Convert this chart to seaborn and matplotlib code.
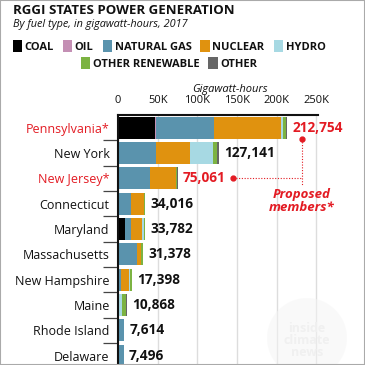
import numpy as np
import pandas as pd
import seaborn as sns
import matplotlib.pyplot as plt
from matplotlib.patches import Rectangle, Circle

# generation by fuel type, GWh, 2017
states = ["Pennsylvania*", "New York", "New Jersey*", "Connecticut", "Maryland",
          "Massachusetts", "New Hampshire", "Maine", "Rhode Island", "Delaware"]
coal = [47000, 300, 1500, 300, 8500, 0, 300, 0, 0, 400]
oil = [500, 800, 200, 200, 300, 200, 50, 100, 50, 100]
natural_gas = [73500, 47000, 38500, 16000, 7200, 23800, 3500, 1500, 7200, 6800]
nuclear = [84000, 42200, 33000, 16500, 14800, 4500, 10200, 0, 0, 0]
hydro = [2500, 29500, 50, 300, 1600, 800, 1600, 3700, 0, 0]
other_renewable = [4300, 5000, 1300, 400, 1000, 1600, 1600, 5300, 300, 150]
other = [954, 2341, 511, 316, 382, 478, 148, 268, 64, 46]
proposed = ["Pennsylvania*", "New Jersey*"]

fuels = ["COAL", "OIL", "NATURAL GAS", "NUCLEAR", "HYDRO", "OTHER RENEWABLE", "OTHER"]
colors = ["#000000", "#c48fb4", "#5a93ad", "#e0920f", "#a7d9e3", "#7cb342", "#666666"]
xticks = [0, 50000, 100000, 150000, 200000, 250000]
xtick_labels = ["0", "50K", "100K", "150K", "200K", "250K"]

RED = "#e31b23"
FONT = "Open Sans"
plt.rcParams["font.family"] = [FONT, "DejaVu Sans"]

df = pd.DataFrame({"state": states, "COAL": coal, "OIL": oil, "NATURAL GAS": natural_gas,
                   "NUCLEAR": nuclear, "HYDRO": hydro, "OTHER RENEWABLE": other_renewable,
                   "OTHER": other})
cum = df[fuels].cumsum(axis=1)
df["total"] = df[fuels].sum(axis=1)

W = H = 365.0
def fx(px):
    return px / W
def fy(py):
    return 1 - py / H

fig = plt.figure(figsize=(3.65, 3.65), dpi=100)
fig.patch.set_facecolor("white")

ax = fig.add_axes([fx(118), fy(368.3), (318 - 118) / W, 253.3 / H])

# stacked bars: draw longest cumulative layer first
for fuel, col in reversed(list(zip(fuels, colors))):
    sns.barplot(x=cum[fuel], y=df["state"], order=states, color=col, saturation=1,
                width=0.87, orient="h", errorbar=None, linewidth=0, ax=ax)

ax.set_xlim(0, 252000)
ax.set_ylim(9.5, -0.5)
ax.set_xlabel("")
ax.set_ylabel("")
ax.xaxis.tick_top()
ax.set_xticks(xticks)
ax.set_xticklabels(xtick_labels, fontsize=8, color="#111")
ax.tick_params(axis="x", length=0, pad=6.5)
ax.grid(axis="x", color="#dddddd", linewidth=1)
ax.set_axisbelow(True)
for s in ["right", "bottom"]:
    ax.spines[s].set_visible(False)
for s in ["top", "left"]:
    ax.spines[s].set_color("#111")
    ax.spines[s].set_linewidth(1.5)

ax.set_yticks(range(len(states)))
ax.set_yticklabels(states, fontsize=9)
for lab in ax.get_yticklabels():
    lab.set_color(RED if lab.get_text() in proposed else "#111")
ax.tick_params(axis="y", which="major", length=0, pad=6)
ax.set_yticks(np.arange(0.5, len(states) - 0.5, 1), minor=True)
ax.tick_params(axis="y", which="minor", length=11, width=0.9, color="#444")

# totals
for i, row in df.iterrows():
    is_prop = row["state"] in proposed
    off = 7500 if i == 0 else 6500
    ax.text(row["total"] + off, i, f"{row['total']:,}", va="center", ha="left",
            fontsize=9.8, fontweight="bold", color=RED if is_prop else "#111",
            clip_on=False)

# proposed members callout
note_x = 231700
ax.plot([note_x], [0.43], "o", color=RED, ms=3.5, clip_on=False)
ax.plot([144800], [2.0], "o", color=RED, ms=3.5, clip_on=False)
ax.plot([144800, note_x], [2.0, 2.0], color=RED, lw=0.8, ls=(0, (1, 1.5)), clip_on=False)
ax.plot([note_x, note_x], [0.43, 2.25], color=RED, lw=0.8, ls=(0, (1, 1.5)), clip_on=False)
ax.text(note_x, 2.38, "Proposed\nmembers*", ha="center", va="top", fontsize=9.5,
        fontweight="bold", fontstyle="italic", color=RED, linespacing=1.0)

# faint watermark
fig.patches.append(Circle((fx(307), fy(338)), 40 / W, transform=fig.transFigure,
                          facecolor="#f5f5f5", edgecolor="none", alpha=0.5, zorder=0))
fig.text(fx(307), fy(340), "inside\nclimate\nnews", ha="center", va="center",
         fontsize=9, fontweight="bold", color="#f0f0f0", linespacing=0.9, zorder=0)

# titles
fig.text(fx(13), fy(14), "RGGI STATES POWER GENERATION", fontsize=9.5, fontweight="bold",
         color="#111", va="baseline")
fig.text(fx(13), fy(27), "By fuel type, in gigawatt-hours, 2017", fontsize=7.8,
         fontstyle="italic", color="#111", va="baseline")
fig.text(fx(230), fy(92), "Gigawatt-hours", fontsize=8, fontstyle="italic",
         color="#111", va="baseline", ha="center")

# legend, two centred rows
renderer = fig.canvas.get_renderer()
rows = [(fuels[:5], colors[:5], 46), (fuels[5:], colors[5:], 63)]
sq_w, sq_h, sq_gap, item_gap = 9.5, 12, 2.5, 9
for labels, cols, yc in rows:
    widths = []
    for lab in labels:
        t = fig.text(0, 0, lab, fontsize=8, fontweight="bold")
        widths.append(t.get_window_extent(renderer).width)
        t.remove()
    total_w = sum(sq_w + sq_gap + w for w in widths) + item_gap * (len(labels) - 1)
    x = 169 - total_w / 2
    for lab, col, w in zip(labels, cols, widths):
        fig.patches.append(Rectangle((fx(x), fy(yc + sq_h / 2)), sq_w / W, sq_h / H,
                                     transform=fig.transFigure, facecolor=col,
                                     edgecolor="none"))
        fig.text(fx(x + sq_w + sq_gap), fy(yc), lab, fontsize=8, fontweight="bold",
                 color="#111", va="center_baseline")
        x += sq_w + sq_gap + w + item_gap

# frame
fig.patches.append(Rectangle((0, 0), 1, 1, transform=fig.transFigure, fill=False,
                             edgecolor="#aaaaaa", linewidth=1.5))

fig.savefig("out.png", dpi=100)
